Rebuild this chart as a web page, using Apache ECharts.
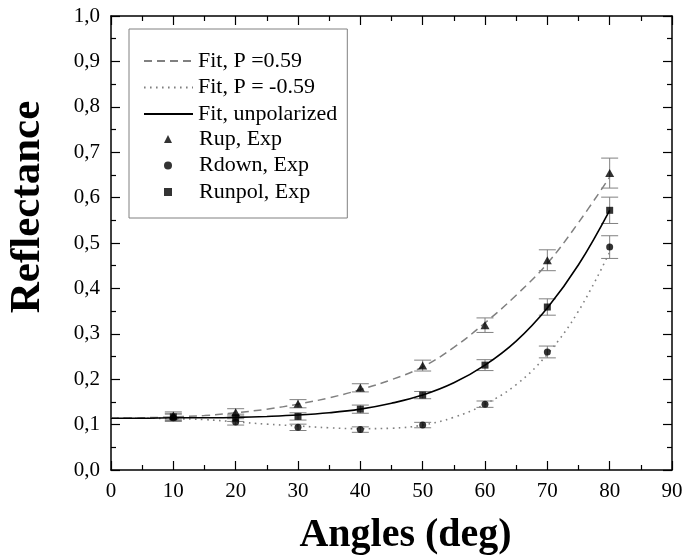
<!DOCTYPE html>
<html>
<head>
<meta charset="utf-8">
<script src="https://cdn.jsdelivr.net/npm/echarts@6/dist/echarts.min.js"></script>
<style>
  html, body { margin: 0; padding: 0; background: #fff; }
  #chart { width: 683px; height: 558px; }
</style>
</head>
<body>
<div id="chart"></div>
<script>
// measured points (angle in deg)
var angles = [10, 20, 30, 40, 50, 60, 70, 80];
var rupVals = [0.120, 0.127, 0.146, 0.181, 0.230, 0.319, 0.462, 0.654];
var rupErr = [0.008, 0.008, 0.009, 0.009, 0.012, 0.016, 0.023, 0.033];
var rdownVals = [0.115, 0.106, 0.094, 0.089, 0.099, 0.145, 0.260, 0.491];
var rdownErr = [0.008, 0.007, 0.007, 0.006, 0.006, 0.007, 0.013, 0.025];
var runpolVals = [0.117, 0.115, 0.118, 0.134, 0.165, 0.231, 0.359, 0.572];
var runpolErr = [0.008, 0.008, 0.008, 0.009, 0.008, 0.012, 0.018, 0.029];

// fit curves
var fitAngles = [0, 5, 10, 15, 20, 25, 30, 35, 40, 45, 50, 55, 60, 65, 70, 75, 80];
var fitUp = [0.114, 0.115, 0.117, 0.120, 0.126, 0.134, 0.145, 0.159, 0.177, 0.199, 0.227, 0.270, 0.324, 0.385, 0.455, 0.545, 0.645];
var fitDown = [0.114, 0.114, 0.113, 0.111, 0.106, 0.101, 0.097, 0.093, 0.091, 0.092, 0.099, 0.116, 0.145, 0.188, 0.255, 0.350, 0.480];
var fitUnpol = [0.114, 0.114, 0.115, 0.115, 0.116, 0.118, 0.121, 0.126, 0.134, 0.147, 0.165, 0.192, 0.231, 0.284, 0.357, 0.452, 0.572];

var lineNames = ['Fit, P =0.59', 'Fit, P = -0.59', 'Fit, unpolarized'];
var pointNames = ['Rup, Exp', 'Rdown, Exp', 'Runpol, Exp'];

var serif = '"Liberation Serif", "Times New Roman", serif';
var gray = '#808080';
var clear = 'rgba(0,0,0,0)';

function zip(xs, ys){
	var out = [];
	for (var i = 0; i < xs.length; i++) out.push([xs[i], ys[i]]);
	return out;
}
function errRows(vals, errs){
	var out = [];
	for (var i = 0; i < angles.length; i++) out.push([angles[i], vals[i] - errs[i], vals[i] + errs[i]]);
	return out;
}

function renderErr(params, api){
	var x = api.value(0);
	var lo = api.coord([x, api.value(1)]);
	var hi = api.coord([x, api.value(2)]);
	var hw = 8.5;
	var st = { stroke: gray, lineWidth: 1 };
	return {
		type: 'group',
		children: [
			{ type: 'line', shape: { x1: lo[0], y1: lo[1], x2: hi[0], y2: hi[1] }, style: st },
			{ type: 'line', shape: { x1: lo[0] - hw, y1: lo[1], x2: lo[0] + hw, y2: lo[1] }, style: st },
			{ type: 'line', shape: { x1: hi[0] - hw, y1: hi[1], x2: hi[0] + hw, y2: hi[1] }, style: st }
		]
	};
}

function axisCommon(extra){
	var base = {
		type: 'value',
		axisLine: { show: true, onZero: false, lineStyle: { color: '#000', width: 1.5 } },
		axisTick: { show: true, inside: true, length: 9, lineStyle: { color: '#000', width: 1.2 } },
		minorTick: { show: true, splitNumber: 2, length: 5, lineStyle: { color: '#000', width: 1.2 } },
		splitLine: { show: false }
	};
	return Object.assign(base, extra);
}

var legendText = { fontFamily: serif, fontSize: 22, lineHeight: 22, color: '#000' };

var chart = echarts.init(document.getElementById('chart'), null, { renderer: 'canvas' });

var option = {
	animation: false,
	backgroundColor: '#fff',
	grid: { left: 111, right: 11, top: 16, bottom: 88, containLabel: false, outerBoundsMode: 'none' },
	legend: [
		{
			// fit lines, this one also draws the frame round both legends
			orient: 'vertical',
			left: 129,
			top: 29,
			padding: [21, 10, 93, 14],
			borderColor: gray,
			borderWidth: 1,
			itemWidth: 49,
			itemHeight: 8,
			itemGap: 4.5,
			textStyle: legendText,
			itemStyle: { color: clear, borderColor: clear, borderWidth: 0 },
			data: lineNames
		},
		{
			// measured points
			orient: 'vertical',
			left: 164,
			top: 128,
			padding: 0,
			itemWidth: 8,
			itemHeight: 8,
			itemGap: 4.5,
			textStyle: Object.assign({ padding: [0, 0, 0, 22] }, legendText),
			data: pointNames
		}
	],
	xAxis: [
		axisCommon({
			min: 0, max: 90, interval: 10, position: 'bottom',
			name: 'Angles (deg)', nameLocation: 'middle', nameGap: 46,
			nameTextStyle: { fontFamily: serif, fontSize: 40, fontWeight: 'bold', color: '#000', padding: [0, 0, 0, 28] },
			axisLabel: { show: true, margin: 11, fontFamily: serif, fontSize: 21, color: '#000' }
		}),
		axisCommon({
			min: 0, max: 90, interval: 10, position: 'top',
			axisLabel: { show: false }
		})
	],
	yAxis: [
		axisCommon({
			min: 0, max: 1, interval: 0.1, position: 'left',
			name: 'Reflectance', nameLocation: 'middle', nameGap: 62,
			nameTextStyle: { fontFamily: serif, fontSize: 43, fontWeight: 'bold', color: '#000', padding: [0, 0, 0, 72] },
			axisLabel: {
				show: true, margin: 11, fontFamily: serif, fontSize: 21, color: '#000',
				formatter: function(v){ return v.toFixed(1).replace('.', ','); }
			}
		}),
		axisCommon({
			min: 0, max: 1, interval: 0.1, position: 'right',
			axisLabel: { show: false }
		})
	],
	series: [
		{
			name: lineNames[0], type: 'line', data: zip(fitAngles, fitUp),
			smooth: 0.4, symbol: 'none', z: 3,
			lineStyle: { color: gray, width: 1.5, type: [8, 5] },
			itemStyle: { color: clear, borderWidth: 0 }
		},
		{
			name: lineNames[1], type: 'line', data: zip(fitAngles, fitDown),
			smooth: 0.4, symbol: 'none', z: 3,
			lineStyle: { color: gray, width: 1.6, type: [1.6, 4.4] },
			itemStyle: { color: clear, borderWidth: 0 }
		},
		{
			name: lineNames[2], type: 'line', data: zip(fitAngles, fitUnpol),
			smooth: 0.4, symbol: 'none', z: 4,
			lineStyle: { color: '#000', width: 1.6 },
			itemStyle: { color: clear, borderWidth: 0 }
		},
		{ name: 'errUp', type: 'custom', renderItem: renderErr, data: errRows(rupVals, rupErr), z: 2, silent: true },
		{ name: 'errDown', type: 'custom', renderItem: renderErr, data: errRows(rdownVals, rdownErr), z: 2, silent: true },
		{ name: 'errUnpol', type: 'custom', renderItem: renderErr, data: errRows(runpolVals, runpolErr), z: 2, silent: true },
		{
			name: pointNames[0], type: 'scatter', data: zip(angles, rupVals),
			symbol: 'triangle', symbolSize: [9, 8], itemStyle: { color: '#000' }, z: 5
		},
		{
			name: pointNames[1], type: 'scatter', data: zip(angles, rdownVals),
			symbol: 'circle', symbolSize: 7, itemStyle: { color: '#000' }, z: 5
		},
		{
			name: pointNames[2], type: 'scatter', data: zip(angles, runpolVals),
			symbol: 'rect', symbolSize: 7, itemStyle: { color: '#000' }, z: 5
		}
	]
};

chart.setOption(option);
</script>
</body>
</html>
